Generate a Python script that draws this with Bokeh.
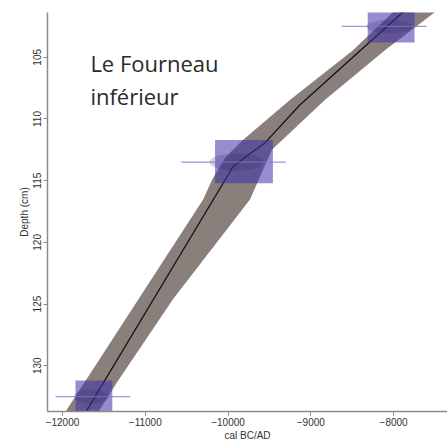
from bokeh.plotting import figure
from bokeh.models import Range1d, FixedTicker, ColumnDataSource
from bokeh.core.properties import value
from bokeh.embed import file_html
from bokeh.resources import INLINE

# Age-depth model: 95% envelope (older and younger edges) and median
older_depth = [134.0, 116.53, 114.92, 113.15, 111.77, 108.47, 104.44, 101.37, 101.0]
older_age = [-11990, -10301, -10193, -10036, -9831, -9253, -8494, -8012, -7960]
younger_depth = [101.0, 101.37, 104.44, 108.47, 112.5, 116.53, 124.6, 131.29, 134.0]
younger_age = [-7434, -7506, -8108, -8831, -9470, -9735, -10663, -11337, -11590]
median_depth = [134.0, 113.87, 112.98, 111.94, 108.87, 101.37, 101.0]
median_age = [-11740, -9940, -9771, -9554, -9133, -7892, -7831]

# Dated samples (calibrated ranges and depth intervals)
date_depth = [102.5, 113.5, 132.5]
date_left = [-8313, -10157, -11843]
date_right = [-7747, -9458, -11398]
date_top = [101.0, 111.7, 131.2]
date_bottom = [103.8, 115.2, 134.0]
date_line_from = [-8627, -10566, -12084]
date_line_to = [-7602, -9301, -11181]
date_peak = [-8050, -9900, -11650]
date_peak_width = [560, 650, 420]
date_peak_height = [1.1, 1.4, 1.2]

x_ticks = [-12000, -11000, -10000, -9000, -8000]
y_ticks = [105, 110, 115, 120, 125, 130]

site_label = ["Le Fourneau", "inférieur"]
label_age = [-11663, -11663]
label_depth = [105.5, 108.15]

p = figure(width=447, height=443, output_backend="svg", toolbar_location=None,
           x_range=Range1d(-12181, -7349), y_range=Range1d(133.71, 101.37),
           min_border_left=47, min_border_right=0, min_border_top=12, min_border_bottom=29,
           outline_line_color=None, background_fill_color="white", border_fill_color="white")
p.grid.visible = False

p.patch(older_age + younger_age, older_depth + younger_depth,
        fill_color="#8a807b", line_color=None)
p.line(median_age, median_depth, line_color="#111111", line_width=1.3)

src = ColumnDataSource(dict(l=date_left, r=date_right, t=date_top, b=date_bottom,
                            d=date_depth, f=date_line_from, to=date_line_to,
                            px=date_peak, pw=date_peak_width, ph=date_peak_height))
p.quad(left="l", right="r", top="t", bottom="b", source=src,
       fill_color="#3f2fac", fill_alpha=0.55, line_color=None)
p.ellipse(x="px", y="d", width="pw", height="ph", source=src,
          fill_color="#2a2060", fill_alpha=0.2, line_color=None)
p.segment(x0="f", x1="to", y0="d", y1="d", source=src, line_color="#7d70d0",
          line_alpha=0.75, line_width=1.3)

p.text(x=label_age, y=label_depth, text=site_label, text_font=value("Open Sans"),
       text_font_size="22px", text_color="#2a2a2a", text_baseline="alphabetic")

for ax in (p.xaxis[0], p.yaxis[0]):
    ax.axis_line_color = "#8a8a8a"
    ax.axis_line_width = 1.5
    ax.major_tick_line_color = "#8a8a8a"
    ax.major_tick_out = 4
    ax.major_tick_in = 0
    ax.minor_tick_line_color = None
    ax.major_label_text_font = "Liberation Sans"
    ax.major_label_text_font_size = "10px"
    ax.major_label_text_color = "#333333"
    ax.axis_label_text_font = "Liberation Sans"
    ax.axis_label_text_font_size = "10px"
    ax.axis_label_text_font_style = "normal"
    ax.axis_label_text_color = "#333333"
    ax.major_label_standoff = 2
    ax.axis_label_standoff = 1

p.xaxis.ticker = FixedTicker(ticks=x_ticks)
p.yaxis.ticker = FixedTicker(ticks=y_ticks)
p.xaxis.axis_label = "cal BC/AD"
p.yaxis.axis_label = "Depth (cm)"
p.yaxis.major_label_orientation = "vertical"

open("out.html", "w").write(file_html(p, INLINE))
